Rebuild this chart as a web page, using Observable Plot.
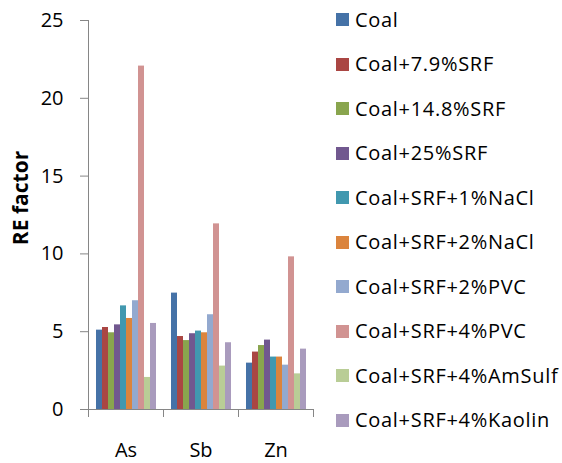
<!DOCTYPE html>
<html><head><meta charset="utf-8">
<script src="https://cdn.jsdelivr.net/npm/d3@7"></script>
<script src="https://cdn.jsdelivr.net/npm/@observablehq/plot@0.6"></script>
<style>
body{margin:0;background:#fff;font-family:"Open Sans",sans-serif;}
#wrap{position:relative;width:562px;height:463px;overflow:hidden;}
#chart{position:absolute;left:0;top:0;}
#legend{position:absolute;left:336px;top:0;width:226px;height:463px;}
.item{position:absolute;left:0;height:20px;display:flex;align-items:center;font-size:20px;color:#000;white-space:nowrap;line-height:20px;letter-spacing:0.7px;}
.sw{width:13px;height:13px;margin-right:6px;flex:none;}
</style></head>
<body><div id="wrap"><div id="chart"></div><div id="legend"></div></div>
<script>
const categories = ["As", "Sb", "Zn"];
const series = ["Coal", "Coal+7.9%SRF", "Coal+14.8%SRF", "Coal+25%SRF", "Coal+SRF+1%NaCl",
  "Coal+SRF+2%NaCl", "Coal+SRF+2%PVC", "Coal+SRF+4%PVC", "Coal+SRF+4%AmSulf", "Coal+SRF+4%Kaolin"];
const asValues = [5.10, 5.27, 4.93, 5.44, 6.66, 5.85, 6.99, 22.07, 2.06, 5.53];
const sbValues = [7.48, 4.69, 4.43, 4.87, 5.04, 4.93, 6.09, 11.93, 2.79, 4.29];
const znValues = [2.98, 3.69, 4.11, 4.46, 3.37, 3.37, 2.85, 9.81, 2.29, 3.88];
const colors = ["#4572A7", "#AA4643", "#89A54E", "#71588F", "#4198AF", "#DB843D", "#93A9CF", "#D19392", "#B9CD96", "#A99BBD"];
const yTicks = [0, 5, 10, 15, 20, 25];
const yLabel = "RE factor";

const valuesByCat = [asValues, sbValues, znValues];
const data = [];
categories.forEach((c, ci) => series.forEach((s, si) => data.push({cat: c, series: s, value: valuesByCat[ci][si]})));

const chart = Plot.plot({
  width: 320, height: 463,
  marginTop: 20, marginBottom: 54, marginLeft: 87, marginRight: 6,
  style: {fontFamily: "'Open Sans', sans-serif", fontSize: "20px", color: "#000", background: "#fff", overflow: "visible"},
  fx: {domain: categories, padding: 0, label: null},
  x: {domain: series, axis: null, paddingInner: 0, paddingOuter: 0.73},
  y: {domain: [0, 25], label: null},
  color: {domain: series, range: colors},
  marks: [
    Plot.barY(data, {fx: "cat", x: "series", y: "value", fill: "series", inset: 0}),
    Plot.ruleY([0], {stroke: "#868686", strokeWidth: 1}),
    Plot.axisY({ticks: yTicks, tickSize: 8, tickPadding: 17, stroke: "#868686", label: null, fontSize: 20, fill: "#000"}),
    Plot.axisFx({anchor: "bottom", tickSize: 0, tickPadding: 33, label: null, fontSize: 20, fill: "#000"})
  ]
});
document.getElementById("chart").appendChild(chart);

// Excel-style axis line and category boundary ticks from the library's scales
const svg = d3.select(chart);
const fx = chart.scale("fx");
const y = chart.scale("y");
const y0 = y.apply(0), yTop = y.apply(25);
const left = fx.apply(categories[0]);
svg.append("line").attr("x1", left + 0.5).attr("x2", left + 0.5).attr("y1", yTop).attr("y2", y0 + 0.5)
  .attr("stroke", "#868686");
const bounds = categories.map(c => fx.apply(c)).concat([fx.apply(categories[categories.length - 1]) + fx.bandwidth]);
bounds.forEach(b => svg.append("line").attr("x1", b + 0.5).attr("x2", b + 0.5).attr("y1", y0).attr("y2", y0 + 8).attr("stroke", "#868686"));
svg.append("text").attr("transform", `translate(28,198) rotate(-90)`).attr("text-anchor", "middle")
  .attr("font-weight", "bold").attr("font-size", 21).attr("fill", "#000").text(yLabel);

const legend = document.getElementById("legend");
series.forEach((s, i) => {
  const it = document.createElement("div");
  it.className = "item";
  it.style.top = (19.5 + i * 44.5 - 10) + "px";
  const sw = document.createElement("span");
  sw.className = "sw"; sw.style.background = colors[i];
  it.appendChild(sw);
  it.appendChild(document.createTextNode(s));
  legend.appendChild(it);
});
</script>
</body></html>
